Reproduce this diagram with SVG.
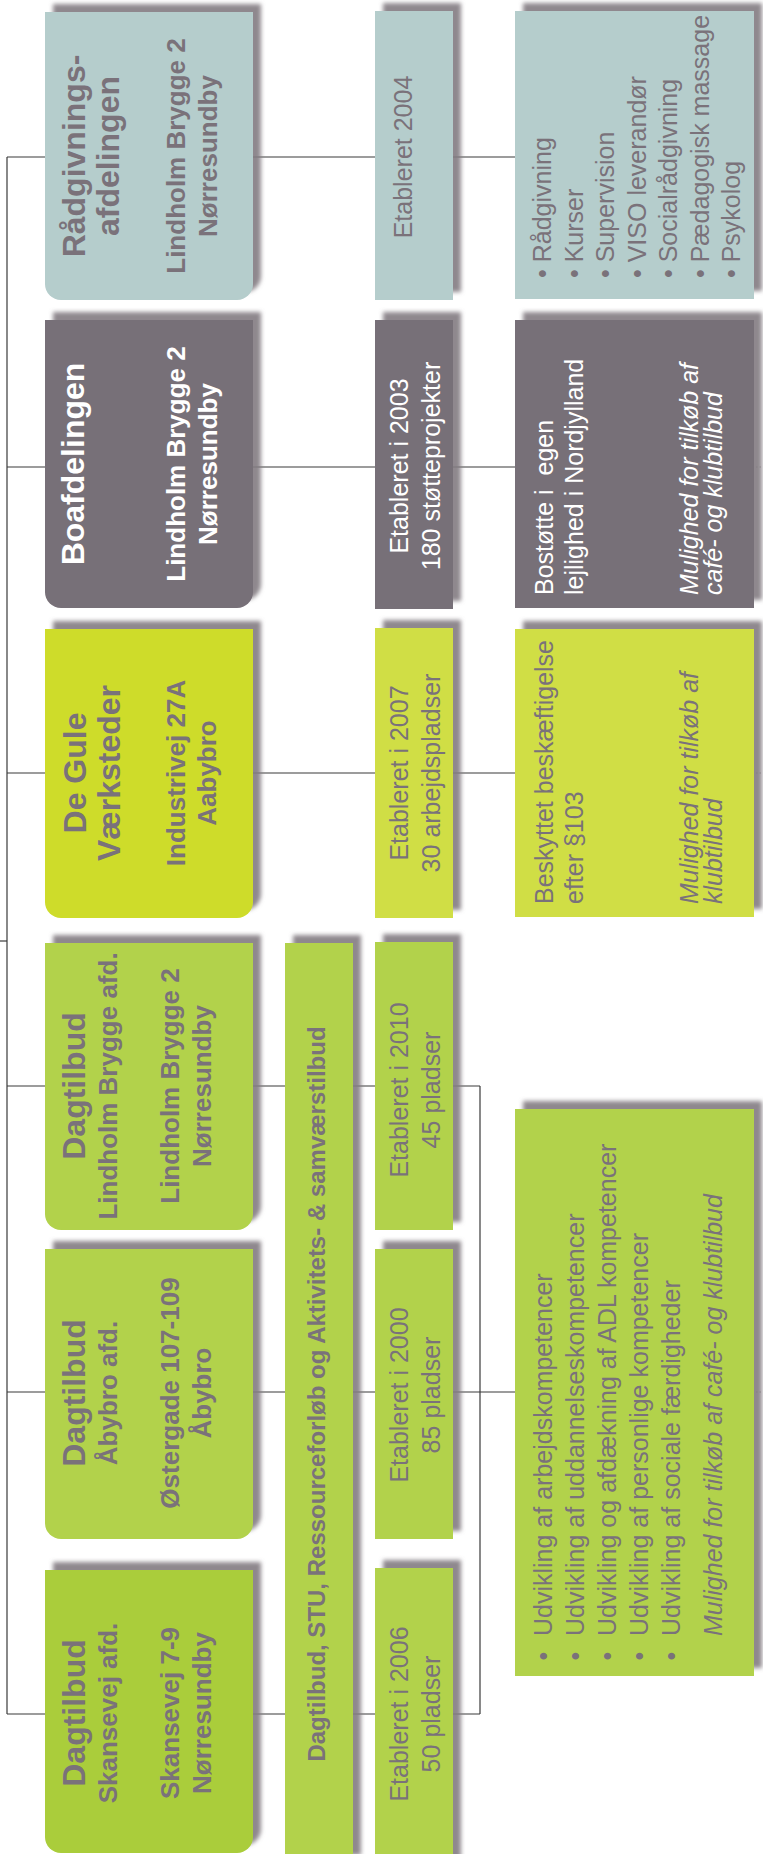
<svg xmlns="http://www.w3.org/2000/svg" width="763" height="1854" viewBox="0 0 763 1854">
<style>
text{font-family:"Liberation Sans",Arial,sans-serif;fill:#7a727a}
.w{fill:#ffffff}
.t{font-size:32px;font-weight:bold}
.s{font-size:26px;font-weight:bold}
.r{font-size:25px}
.i{font-size:25px;font-style:italic}
.bar{font-size:24px;font-weight:bold}
.mid{text-anchor:middle}
.teal{fill:#b5cdcc}
.dark{fill:#777078}
.yel{fill:#cedc2a}
.yel2{fill:#d0de44}
.grn{fill:#b2d24c}
.grn2{fill:#aacd3b}
.ln{stroke:#3a3a3a;stroke-width:1.2;fill:none}
.dot{stroke:#9a9a9a;stroke-width:1;stroke-dasharray:1.5 2;fill:none}
</style>
<defs>
<filter id="sh" filterUnits="userSpaceOnUse" x="-50" y="-50" width="900" height="2000">
<feDropShadow dx="8" dy="-8" stdDeviation="2.3" flood-color="#837b82" flood-opacity="0.9"/>
</filter>
</defs>
<rect x="0" y="0" width="763" height="1854" fill="#ffffff"/>
<g id="connectors">
<path class="ln" d="M7,157 V1714"/>
<path class="ln" d="M0,941 H7"/>
<path class="ln" d="M7,157 H515"/>
<path class="ln" d="M7,467 H515"/>
<path class="ln" d="M7,773 H515"/>
<path class="ln" d="M7,1086 H480"/>
<path class="ln" d="M7,1392 H515"/>
<path class="ln" d="M7,1714 H480"/>
<path class="ln" d="M480,1086 V1714"/>
<path class="dot" d="M756,467 H763"/>
<path class="dot" d="M756,773 H763"/>
<path class="dot" d="M756,1392 H763"/>
</g>
<g id="node-raadgivning">
<path class="teal" filter="url(#sh)" d="M45,12 H253 V284 A16,16 0 0 1 237,300 H61 A16,16 0 0 1 45,284 Z"/>
<text class="t mid" transform="translate(85,156) rotate(-90)">Rådgivnings-</text>
<text class="t mid" transform="translate(119,156) rotate(-90)">afdelingen</text>
<text class="s mid" transform="translate(185,156) rotate(-90)">Lindholm Brygge 2</text>
<text class="s mid" transform="translate(217,156) rotate(-90)">Nørresundby</text>
</g>
<g id="etab-raadgivning">
<rect class="teal" filter="url(#sh)" x="375" y="11" width="78" height="289"/>
<text class="r mid" transform="translate(412,157) rotate(-90)">Etableret 2004</text>
</g>
<g id="list-raadgivning">
<rect class="teal" filter="url(#sh)" x="515" y="11" width="239" height="288"/>
<text class="r" transform="translate(551,278) rotate(-90)">• Rådgivning</text>
<text class="r" transform="translate(582.5,278) rotate(-90)">• Kurser</text>
<text class="r" transform="translate(614,278) rotate(-90)">• Supervision</text>
<text class="r" transform="translate(645.5,278) rotate(-90)">• VISO leverandør</text>
<text class="r" transform="translate(677,278) rotate(-90)">• Socialrådgivning</text>
<text class="r" transform="translate(708.5,278) rotate(-90)">• Pædagogisk massage</text>
<text class="r" transform="translate(740,278) rotate(-90)">• Psykolog</text>
</g>
<g id="node-bo">
<path class="dark" filter="url(#sh)" d="M45,320 H253 V592 A16,16 0 0 1 237,608 H61 A16,16 0 0 1 45,592 Z"/>
<text class="t mid w" transform="translate(84,464) rotate(-90)">Boafdelingen</text>
<text class="s mid w" transform="translate(185,464) rotate(-90)">Lindholm Brygge 2</text>
<text class="s mid w" transform="translate(217,464) rotate(-90)">Nørresundby</text>
</g>
<g id="etab-bo">
<rect class="dark" filter="url(#sh)" x="375" y="320" width="78" height="289"/>
<text class="r mid w" transform="translate(408,466) rotate(-90)">Etableret i 2003</text>
<text class="r mid w" transform="translate(440,466) rotate(-90)">180 støtteprojekter</text>
</g>
<g id="list-bo">
<rect class="dark" filter="url(#sh)" x="515" y="320" width="239" height="288"/>
<text class="r w" xml:space="preserve" transform="translate(553,595) rotate(-90)">Bostøtte i  egen</text>
<text class="r w" transform="translate(583,595) rotate(-90)">lejlighed i Nordjylland</text>
<text class="i w" transform="translate(698,595) rotate(-90)">Mulighed for tilkøb af</text>
<text class="i w" transform="translate(722,595) rotate(-90)">café- og klubtilbud</text>
</g>
<g id="node-degule">
<path class="yel" filter="url(#sh)" d="M45,629 H253 V902 A16,16 0 0 1 237,918 H61 A16,16 0 0 1 45,902 Z"/>
<text class="t mid" transform="translate(86,773) rotate(-90)">De Gule</text>
<text class="t mid" transform="translate(120,773) rotate(-90)">Værksteder</text>
<text class="s mid" transform="translate(185,773) rotate(-90)">Industrivej 27A</text>
<text class="s mid" transform="translate(216,773) rotate(-90)">Aabybro</text>
</g>
<g id="etab-degule">
<rect class="yel2" filter="url(#sh)" x="375" y="628" width="78" height="290"/>
<text class="r mid" transform="translate(408,773) rotate(-90)">Etableret i 2007</text>
<text class="r mid" transform="translate(440,773) rotate(-90)">30 arbejdspladser</text>
</g>
<g id="list-degule">
<rect class="yel2" filter="url(#sh)" x="515" y="629" width="239" height="288"/>
<text class="r" transform="translate(553,904) rotate(-90)">Beskyttet beskæftigelse</text>
<text class="r" transform="translate(583,904) rotate(-90)">efter §103</text>
<text class="i" transform="translate(698,904) rotate(-90)">Mulighed for tilkøb af</text>
<text class="i" transform="translate(722,904) rotate(-90)">klubtilbud</text>
</g>
<g id="bar-stu">
<rect class="grn" filter="url(#sh)" x="285" y="943" width="68" height="920"/>
<text class="bar mid" transform="translate(325,1394) rotate(-90)">Dagtilbud, STU, Ressourceforløb og Aktivitets- &amp; samværstilbud</text>
</g>
<g id="node-lindholm">
<path class="grn" filter="url(#sh)" d="M45,943 H253 V1214 A16,16 0 0 1 237,1230 H61 A16,16 0 0 1 45,1214 Z"/>
<text class="t mid" transform="translate(85,1086) rotate(-90)">Dagtilbud</text>
<text class="s mid" transform="translate(117,1086) rotate(-90)">Lindholm Brygge afd.</text>
<text class="s mid" transform="translate(179,1086) rotate(-90)">Lindholm Brygge 2</text>
<text class="s mid" transform="translate(211,1086) rotate(-90)">Nørresundby</text>
</g>
<g id="etab-lindholm">
<rect class="grn" filter="url(#sh)" x="375" y="942" width="78" height="288"/>
<text class="r mid" transform="translate(408,1090) rotate(-90)">Etableret i 2010</text>
<text class="r mid" transform="translate(440,1090) rotate(-90)">45 pladser</text>
</g>
<g id="node-aabybro">
<path class="grn" filter="url(#sh)" d="M45,1249 H253 V1523 A16,16 0 0 1 237,1539 H61 A16,16 0 0 1 45,1523 Z"/>
<text class="t mid" transform="translate(85,1393) rotate(-90)">Dagtilbud</text>
<text class="s mid" transform="translate(117,1393) rotate(-90)">Åbybro afd.</text>
<text class="s mid" transform="translate(179,1393) rotate(-90)">Østergade 107-109</text>
<text class="s mid" transform="translate(211,1393) rotate(-90)">Åbybro</text>
</g>
<g id="etab-aabybro">
<rect class="grn" filter="url(#sh)" x="375" y="1249" width="78" height="290"/>
<text class="r mid" transform="translate(408,1395) rotate(-90)">Etableret i 2000</text>
<text class="r mid" transform="translate(440,1395) rotate(-90)">85 pladser</text>
</g>
<g id="list-dagtilbud">
<rect class="grn" filter="url(#sh)" x="515" y="1109" width="239" height="567"/>
<text class="r mid" transform="translate(552,1656) rotate(-90)">•</text>
<text class="r mid" transform="translate(584,1656) rotate(-90)">•</text>
<text class="r mid" transform="translate(616,1656) rotate(-90)">•</text>
<text class="r mid" transform="translate(648,1656) rotate(-90)">•</text>
<text class="r mid" transform="translate(680,1656) rotate(-90)">•</text>
<text class="r" transform="translate(552,1636) rotate(-90)">Udvikling af arbejdskompetencer</text>
<text class="r" transform="translate(584,1636) rotate(-90)">Udvikling af uddannelseskompetencer</text>
<text class="r" transform="translate(616,1636) rotate(-90)">Udvikling og afdækning af ADL kompetencer</text>
<text class="r" transform="translate(648,1636) rotate(-90)">Udvikling af personlige kompetencer</text>
<text class="r" transform="translate(680,1636) rotate(-90)">Udvikling af sociale færdigheder</text>
<text class="i" transform="translate(722,1636) rotate(-90)">Mulighed for tilkøb af café- og klubtilbud</text>
</g>
<g id="node-skansevej">
<path class="grn2" filter="url(#sh)" d="M45,1570 H253 V1837 A16,16 0 0 1 237,1853 H61 A16,16 0 0 1 45,1837 Z"/>
<text class="t mid" transform="translate(85,1713) rotate(-90)">Dagtilbud</text>
<text class="s mid" transform="translate(117,1713) rotate(-90)">Skansevej afd.</text>
<text class="s mid" transform="translate(179,1713) rotate(-90)">Skansevej 7-9</text>
<text class="s mid" transform="translate(211,1713) rotate(-90)">Nørresundby</text>
</g>
<g id="etab-skansevej">
<rect class="grn" filter="url(#sh)" x="375" y="1568" width="78" height="300"/>
<text class="r mid" transform="translate(408,1714) rotate(-90)">Etableret i 2006</text>
<text class="r mid" transform="translate(440,1714) rotate(-90)">50 pladser</text>
</g>
</svg>
